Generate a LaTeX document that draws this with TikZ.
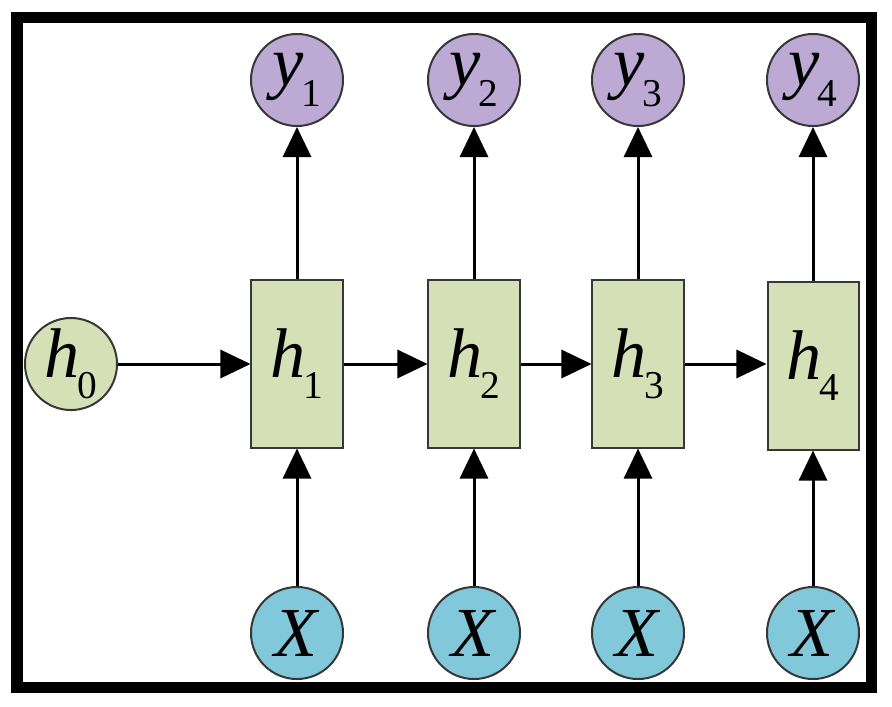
\documentclass[tikz,border=0pt]{standalone}
\usepackage{fontspec}
\setmainfont{Liberation Serif}
\usetikzlibrary{arrows.meta}

\definecolor{cellgreen}{RGB}{214,224,182}
\definecolor{outpurple}{RGB}{189,170,212}
\definecolor{inblue}{RGB}{128,200,218}
\definecolor{edgegray}{RGB}{55,55,55}

% italic letter with lowered index
\newcommand{\lbl}[2]{\textit{#1}\kern-0.04em\raisebox{-0.3em}{\fontsize{28}{28}\selectfont #2}}

\begin{document}
\begin{tikzpicture}[x=0.025cm, y=-0.025cm,
        font=\fontsize{50}{50}\selectfont,
        cell/.style={draw=edgegray, line width=0.05cm, fill=cellgreen,
                     minimum width=2.275cm, minimum height=4.175cm, inner sep=0pt},
        state/.style={circle, draw=edgegray, line width=0.05cm, fill=cellgreen,
                      minimum size=2.3cm, inner sep=0pt},
        outp/.style={state, fill=outpurple},
        inp/.style={state, fill=inblue},
        arr/.style={-{Triangle[length=0.75cm, width=0.7cm]}, line width=0.075cm}]
      \useasboundingbox (0,0) rectangle (892,706);
      % Frame
      \draw[line width=0.275cm] (17,17) rectangle (871,687);
      % Initial state
      \node[state] (h0) at (71,364) {\lbl{h}{0}};
      % Hidden cells
      \node[cell] (h1) at (297,364) {\lbl{h}{1}};
      \node[cell] (h2) at (474,364) {\lbl{h}{2}};
      \node[cell] (h3) at (638,364) {\lbl{h}{3}};
      \node[cell] (h4) at (813,366) {\lbl{h}{4}};
      % Outputs
      \node[outp] (y1) at (297,80) {\lbl{y}{1}};
      \node[outp] (y2) at (474,80) {\lbl{y}{2}};
      \node[outp] (y3) at (638,80) {\lbl{y}{3}};
      \node[outp] (y4) at (813,80) {\lbl{y}{4}};
      % Inputs
      \node[inp] (x1) at (297,633) {\textit{X}};
      \node[inp] (x2) at (474,633) {\textit{X}};
      \node[inp] (x3) at (638,633) {\textit{X}};
      \node[inp] (x4) at (813,633) {\textit{X}};
      % Recurrence
      \draw[arr] (h0) -- (h1);
      \foreach \a/\b in {h1/h2,h2/h3}
        \draw[arr] (\a) -- (\b);
      \draw[arr] (h3.east) -- (h4.west |- h3.east);
      % Input and output arrows
      \foreach \i in {1,2,3,4} {
        \draw[arr] (x\i) -- (h\i);
        \draw[arr] (h\i) -- (y\i);
      }
\end{tikzpicture}
\end{document}
